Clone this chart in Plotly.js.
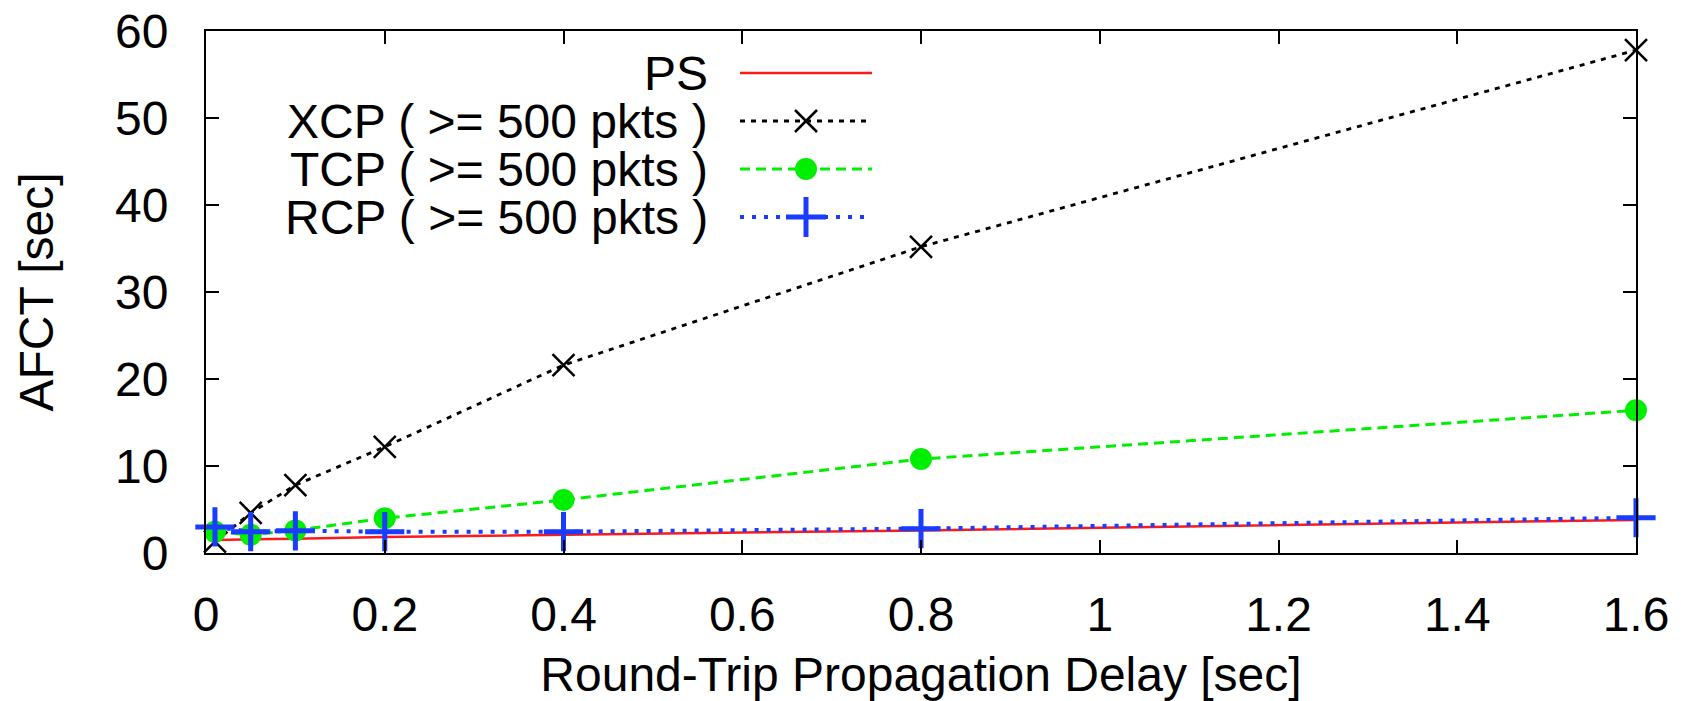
<!DOCTYPE html>
<html><head><meta charset="utf-8">
<script src="https://cdn.plot.ly/plotly-3.0.1.min.js"></script>
<style>html,body{margin:0;padding:0;background:#fff}</style>
</head><body><div id="chart" style="width:1685px;height:701px"></div>
<script>
// ---- data ----
const delay = [0.01, 0.05, 0.1, 0.2, 0.4, 0.8, 1.6];
const ps  = [1.5, 1.55, 1.65, 1.85, 2.1, 2.6, 3.8];
const xcp = [1.3, 4.6, 7.8, 12.2, 21.6, 35.2, 57.8];
const tcp = [2.45, 2.1, 2.6, 4.0, 6.1, 10.8, 16.4];
const rcp = [3.0, 2.45, 2.55, 2.45, 2.45, 2.8, 4.05];
const seriesNames = ['PS', 'XCP ( >= 500 pkts )', 'TCP ( >= 500 pkts )', 'RCP ( >= 500 pkts )'];
const xTitle = 'Round-Trip Propagation Delay [sec]';
const yTitle = 'AFCT [sec]';

// ---- styling ----
const FONT = 'Liberation Sans, Arial, Helvetica, sans-serif';
const FS = 48;
const W = 1685, H = 701;
const M = {l: 206, r: 49, t: 31, b: 148};
const PW = W - M.l - M.r, PH = H - M.t - M.b;
const px2x = p => (p - M.l) / PW;
const px2y = p => (H - M.b - p) / PH;

const styles = [
  {color: '#ff1a1a', width: 2.5, dash: 'solid', mode: 'lines'},
  {color: '#000000', width: 2.8, dash: '5px,6px', mode: 'lines+markers',
   marker: {symbol: 'x-thin', size: 22, color: '#000', line: {width: 2.5, color: '#000'}}},
  {color: '#00ee00', width: 3, dash: '10px,6px', mode: 'lines+markers',
   marker: {symbol: 'circle', size: 22, color: '#00ee00', line: {width: 0}}},
  {color: '#1a3cff', width: 4, dash: '4px,8px', mode: 'lines+markers',
   marker: {symbol: 'cross-thin', size: 28, color: '#1a3cff', line: {width: 5, color: '#1a3cff'}}}
];
const ys = [ps, xcp, tcp, rcp];

const traces = ys.map((y, i) => {
  const s = styles[i];
  const t = {x: delay, y: y, name: seriesNames[i], type: 'scatter', mode: s.mode,
    line: {color: s.color, width: s.width, dash: s.dash}, cliponaxis: false, showlegend: false};
  if (s.marker) t.marker = s.marker;
  return t;
});

// ---- gnuplot-style key: right-aligned text, sample to the right ----
const keyTextRight = 710, keyX0 = 740, keyX1 = 872, keyMid = 806;
const keyRows = [73, 121, 169, 217];
const annotations = [], shapes = [];
seriesNames.forEach((nm, i) => {
  const yp = px2y(keyRows[i]);
  annotations.push({xref: 'paper', yref: 'paper', x: px2x(keyTextRight), y: yp,
    xanchor: 'right', yanchor: 'middle', showarrow: false,
    text: nm.replace(/>/g, '&gt;'), font: {family: FONT, size: FS, color: '#000'}});
  const s = styles[i];
  shapes.push({type: 'line', xref: 'paper', yref: 'paper', x0: px2x(keyX0), x1: px2x(keyX1), y0: yp, y1: yp,
    line: {color: s.color, width: s.width, dash: s.dash}});
  const base = {xref: 'paper', yref: 'paper', xsizemode: 'pixel', ysizemode: 'pixel',
    xanchor: px2x(keyMid), yanchor: yp};
  if (i === 1) {
    shapes.push(Object.assign({type: 'line', x0: -11, x1: 11, y0: -11, y1: 11, line: {color: '#000', width: 2.5}}, base));
    shapes.push(Object.assign({type: 'line', x0: -11, x1: 11, y0: 11, y1: -11, line: {color: '#000', width: 2.5}}, base));
  } else if (i === 2) {
    shapes.push(Object.assign({type: 'circle', x0: -11, x1: 11, y0: -11, y1: 11, fillcolor: '#00ee00', line: {width: 0}}, base));
  } else if (i === 3) {
    shapes.push(Object.assign({type: 'line', x0: -20, x1: 20, y0: 0, y1: 0, line: {color: '#1a3cff', width: 5}}, base));
    shapes.push(Object.assign({type: 'line', x0: 0, x1: 0, y0: -20, y1: 20, line: {color: '#1a3cff', width: 5}}, base));
  }
});

const axisCommon = {
  showline: true, linecolor: '#000', linewidth: 2, mirror: 'ticks',
  ticks: 'inside', ticklen: 13, tickwidth: 2, tickcolor: '#000',
  showgrid: false, zeroline: false,
  tickfont: {family: FONT, size: FS, color: '#000'}
};

const layout = {
  width: W, height: H, margin: M,
  paper_bgcolor: '#fff', plot_bgcolor: '#fff',
  font: {family: FONT, size: FS, color: '#000'},
  xaxis: Object.assign({}, axisCommon, {range: [0, 1.6], dtick: 0.2, tick0: 0,
    ticklabelstandoff: 18,
    title: {text: xTitle, font: {family: FONT, size: FS, color: '#000'}, standoff: 26}}),
  yaxis: Object.assign({}, axisCommon, {range: [0, 60], dtick: 10, tick0: 0,
    ticklabelstandoff: 26,
    title: {text: yTitle, font: {family: FONT, size: FS, color: '#000'}, standoff: 46}}),
  annotations: annotations,
  shapes: shapes,
  showlegend: false
};

Plotly.newPlot('chart', traces, layout, {displayModeBar: false, staticPlot: true});
</script>
</body></html>
